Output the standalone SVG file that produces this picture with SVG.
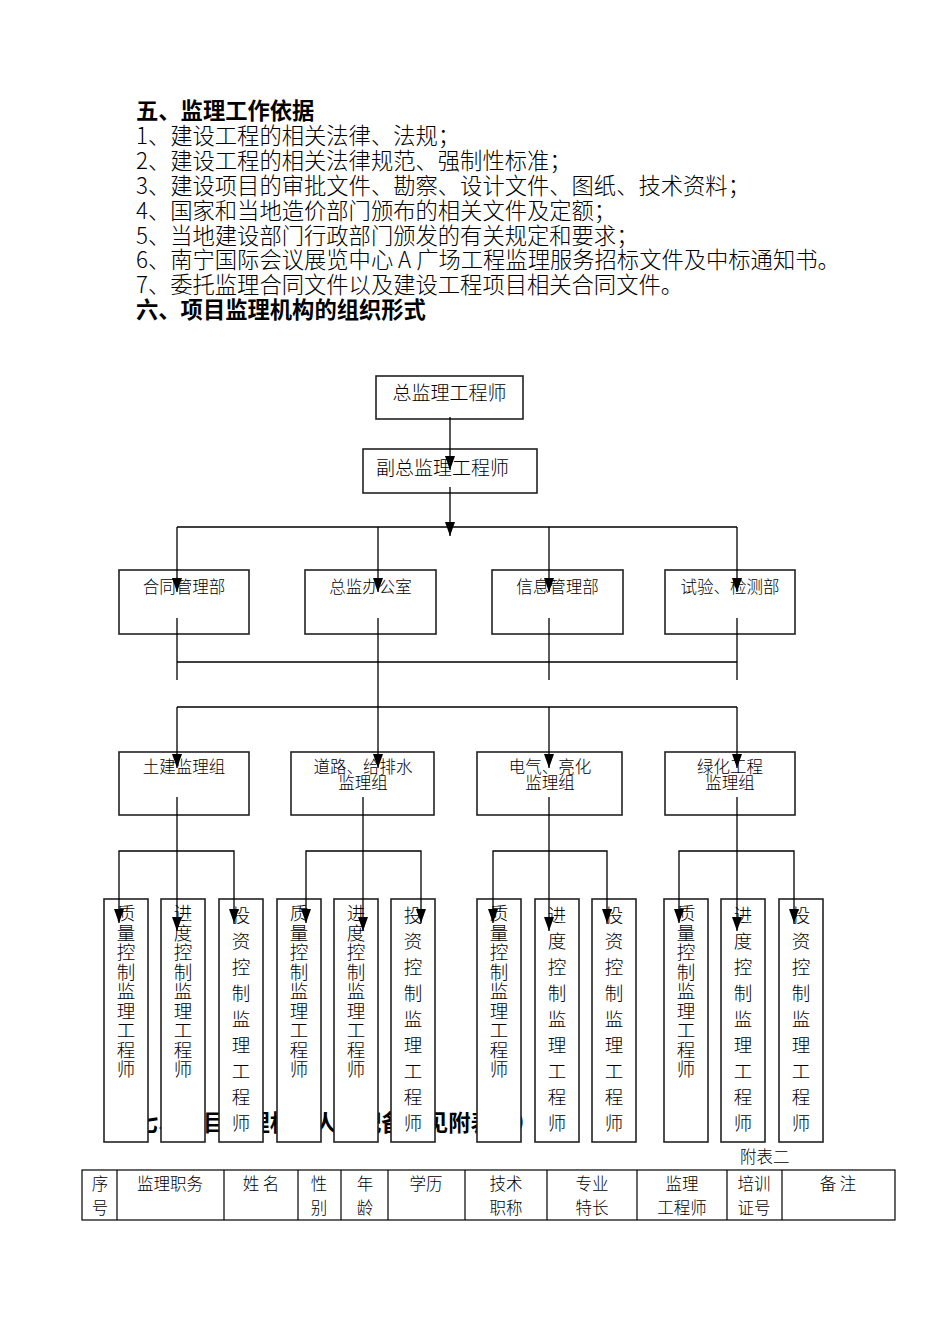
<svg xmlns="http://www.w3.org/2000/svg" width="950" height="1344" viewBox="0 0 950 1344">
<defs>
<marker id="ah" markerWidth="14" markerHeight="10" refX="14" refY="5" orient="auto" markerUnits="userSpaceOnUse" viewBox="0 0 14 10">
<path d="M0,0 L14,5 L0,10 Z" fill="#000"/>
</marker>
<style>
.t{font-family:"Noto Sans CJK SC","Liberation Sans",sans-serif;fill:#000}
.h{font-size:22.3px;font-weight:700}
.b{font-size:22.3px;font-weight:300}
.n{font-size:19px;font-weight:300}
.s{font-size:16.5px;font-weight:300}
.v{font-size:18.5px;font-weight:300}
.box{fill:#fff;stroke:#222;stroke-width:1.6}
.ln{stroke:#000;stroke-width:1.3;fill:none}
.ar{stroke:#000;stroke-width:1.3;fill:none;marker-end:url(#ah)}
.tb{stroke:#000;stroke-width:1.2;fill:none}
</style>
</defs>
<rect width="950" height="1344" fill="#fff"/>

<g id="text-body">
<text class="t h" x="136" y="119">五、监理工作依据</text>
<text class="t b" x="136" y="144">1、建设工程的相关法律、法规；</text>
<text class="t b" x="136" y="169">2、建设工程的相关法律规范、强制性标准；</text>
<text class="t b" x="136" y="194">3、建设项目的审批文件、勘察、设计文件、图纸、技术资料；</text>
<text class="t b" x="136" y="219">4、国家和当地造价部门颁布的相关文件及定额；</text>
<text class="t b" x="136" y="244">5、当地建设部门行政部门颁发的有关规定和要求；</text>
<text class="t b" x="136" y="268">6、南宁国际会议展览中心 A 广场工程监理服务招标文件及中标通知书。</text>
<text class="t b" x="136" y="293">7、委托监理合同文件以及建设工程项目相关合同文件。</text>
<text class="t h" x="136" y="318">六、项目监理机构的组织形式</text>
<text class="t h" x="136" y="1131">七、项目监理机构人员配备详见附表二）</text>
<text class="t s" x="740" y="1163">附表二</text>
</g>

<g id="n-zongjian">
<rect class="box" x="376" y="376" width="147" height="43"/>
<text class="t n" x="449.5" y="400" text-anchor="middle">总监理工程师</text>
</g>
<g id="n-fuzong">
<rect class="box" x="363" y="449" width="174" height="44"/>
<text class="t n" x="376" y="475">副总监理工程师</text>
</g>

<g id="n-hetong"><rect class="box" x="119" y="570" width="130" height="64"/><text class="t s" x="184" y="593" text-anchor="middle">合同管理部</text></g>
<g id="n-bangong"><rect class="box" x="305" y="570" width="131" height="64"/><text class="t s" x="370.5" y="593" text-anchor="middle">总监办公室</text></g>
<g id="n-xinxi"><rect class="box" x="492" y="570" width="131" height="64"/><text class="t s" x="557.5" y="593" text-anchor="middle">信息管理部</text></g>
<g id="n-shiyan"><rect class="box" x="665" y="570" width="130" height="64"/><text class="t s" x="730" y="593" text-anchor="middle">试验、检测部</text></g>

<g id="n-tujian"><rect class="box" x="119" y="752" width="130" height="63"/><text class="t s" x="184" y="773" text-anchor="middle">土建监理组</text></g>
<g id="n-daolu"><rect class="box" x="291" y="752" width="143" height="63"/><text class="t s" x="363" y="773" text-anchor="middle">道路、给排水</text><text class="t s" x="363" y="789" text-anchor="middle">监理组</text></g>
<g id="n-dianqi"><rect class="box" x="477" y="752" width="145" height="63"/><text class="t s" x="550" y="773" text-anchor="middle">电气、亮化</text><text class="t s" x="550" y="789" text-anchor="middle">监理组</text></g>
<g id="n-lvhua"><rect class="box" x="665" y="752" width="130" height="63"/><text class="t s" x="730" y="773" text-anchor="middle">绿化工程</text><text class="t s" x="730" y="789" text-anchor="middle">监理组</text></g>

<g id="n-g1-zl"><rect class="box" x="104" y="899" width="44" height="243"/><text class="t v" text-anchor="middle"><tspan x="126" y="920">质</tspan><tspan x="126" dy="19.5">量</tspan><tspan x="126" dy="19.5">控</tspan><tspan x="126" dy="19.5">制</tspan><tspan x="126" dy="19.5">监</tspan><tspan x="126" dy="19.5">理</tspan><tspan x="126" dy="19.5">工</tspan><tspan x="126" dy="19.5">程</tspan><tspan x="126" dy="19.5">师</tspan></text></g>
<g id="n-g1-jd"><rect class="box" x="161" y="899" width="44" height="243"/><text class="t v" text-anchor="middle"><tspan x="183" y="920">进</tspan><tspan x="183" dy="19.5">度</tspan><tspan x="183" dy="19.5">控</tspan><tspan x="183" dy="19.5">制</tspan><tspan x="183" dy="19.5">监</tspan><tspan x="183" dy="19.5">理</tspan><tspan x="183" dy="19.5">工</tspan><tspan x="183" dy="19.5">程</tspan><tspan x="183" dy="19.5">师</tspan></text></g>
<g id="n-g1-tz"><rect class="box" x="219" y="899" width="44" height="243"/><text class="t v" text-anchor="middle"><tspan x="241" y="922">投</tspan><tspan x="241" dy="26">资</tspan><tspan x="241" dy="26">控</tspan><tspan x="241" dy="26">制</tspan><tspan x="241" dy="26">监</tspan><tspan x="241" dy="26">理</tspan><tspan x="241" dy="26">工</tspan><tspan x="241" dy="26">程</tspan><tspan x="241" dy="26">师</tspan></text></g>

<g id="n-g2-zl"><rect class="box" x="277" y="899" width="44" height="243"/><text class="t v" text-anchor="middle"><tspan x="299" y="920">质</tspan><tspan x="299" dy="19.5">量</tspan><tspan x="299" dy="19.5">控</tspan><tspan x="299" dy="19.5">制</tspan><tspan x="299" dy="19.5">监</tspan><tspan x="299" dy="19.5">理</tspan><tspan x="299" dy="19.5">工</tspan><tspan x="299" dy="19.5">程</tspan><tspan x="299" dy="19.5">师</tspan></text></g>
<g id="n-g2-jd"><rect class="box" x="334" y="899" width="44" height="243"/><text class="t v" text-anchor="middle"><tspan x="356" y="920">进</tspan><tspan x="356" dy="19.5">度</tspan><tspan x="356" dy="19.5">控</tspan><tspan x="356" dy="19.5">制</tspan><tspan x="356" dy="19.5">监</tspan><tspan x="356" dy="19.5">理</tspan><tspan x="356" dy="19.5">工</tspan><tspan x="356" dy="19.5">程</tspan><tspan x="356" dy="19.5">师</tspan></text></g>
<g id="n-g2-tz"><rect class="box" x="391" y="899" width="44" height="243"/><text class="t v" text-anchor="middle"><tspan x="413" y="922">投</tspan><tspan x="413" dy="26">资</tspan><tspan x="413" dy="26">控</tspan><tspan x="413" dy="26">制</tspan><tspan x="413" dy="26">监</tspan><tspan x="413" dy="26">理</tspan><tspan x="413" dy="26">工</tspan><tspan x="413" dy="26">程</tspan><tspan x="413" dy="26">师</tspan></text></g>

<g id="n-g3-zl"><rect class="box" x="477" y="899" width="44" height="243"/><text class="t v" text-anchor="middle"><tspan x="499" y="920">质</tspan><tspan x="499" dy="19.5">量</tspan><tspan x="499" dy="19.5">控</tspan><tspan x="499" dy="19.5">制</tspan><tspan x="499" dy="19.5">监</tspan><tspan x="499" dy="19.5">理</tspan><tspan x="499" dy="19.5">工</tspan><tspan x="499" dy="19.5">程</tspan><tspan x="499" dy="19.5">师</tspan></text></g>
<g id="n-g3-jd"><rect class="box" x="535" y="899" width="44" height="243"/><text class="t v" text-anchor="middle"><tspan x="557" y="922">进</tspan><tspan x="557" dy="26">度</tspan><tspan x="557" dy="26">控</tspan><tspan x="557" dy="26">制</tspan><tspan x="557" dy="26">监</tspan><tspan x="557" dy="26">理</tspan><tspan x="557" dy="26">工</tspan><tspan x="557" dy="26">程</tspan><tspan x="557" dy="26">师</tspan></text></g>
<g id="n-g3-tz"><rect class="box" x="592" y="899" width="44" height="243"/><text class="t v" text-anchor="middle"><tspan x="614" y="922">投</tspan><tspan x="614" dy="26">资</tspan><tspan x="614" dy="26">控</tspan><tspan x="614" dy="26">制</tspan><tspan x="614" dy="26">监</tspan><tspan x="614" dy="26">理</tspan><tspan x="614" dy="26">工</tspan><tspan x="614" dy="26">程</tspan><tspan x="614" dy="26">师</tspan></text></g>

<g id="n-g4-zl"><rect class="box" x="664" y="899" width="44" height="243"/><text class="t v" text-anchor="middle"><tspan x="686" y="920">质</tspan><tspan x="686" dy="19.5">量</tspan><tspan x="686" dy="19.5">控</tspan><tspan x="686" dy="19.5">制</tspan><tspan x="686" dy="19.5">监</tspan><tspan x="686" dy="19.5">理</tspan><tspan x="686" dy="19.5">工</tspan><tspan x="686" dy="19.5">程</tspan><tspan x="686" dy="19.5">师</tspan></text></g>
<g id="n-g4-jd"><rect class="box" x="721" y="899" width="44" height="243"/><text class="t v" text-anchor="middle"><tspan x="743" y="922">进</tspan><tspan x="743" dy="26">度</tspan><tspan x="743" dy="26">控</tspan><tspan x="743" dy="26">制</tspan><tspan x="743" dy="26">监</tspan><tspan x="743" dy="26">理</tspan><tspan x="743" dy="26">工</tspan><tspan x="743" dy="26">程</tspan><tspan x="743" dy="26">师</tspan></text></g>
<g id="n-g4-tz"><rect class="box" x="779" y="899" width="44" height="243"/><text class="t v" text-anchor="middle"><tspan x="801" y="922">投</tspan><tspan x="801" dy="26">资</tspan><tspan x="801" dy="26">控</tspan><tspan x="801" dy="26">制</tspan><tspan x="801" dy="26">监</tspan><tspan x="801" dy="26">理</tspan><tspan x="801" dy="26">工</tspan><tspan x="801" dy="26">程</tspan><tspan x="801" dy="26">师</tspan></text></g>

<g id="connectors">
<line class="ar" x1="450" y1="417" x2="450" y2="470"/>
<line class="ar" x1="450" y1="487" x2="450" y2="536"/>
<line class="ln" x1="177" y1="527" x2="737" y2="527"/>
<line class="ar" x1="177" y1="527" x2="177" y2="592"/>
<line class="ar" x1="378" y1="527" x2="378" y2="592"/>
<line class="ar" x1="549" y1="527" x2="549" y2="592"/>
<line class="ar" x1="737" y1="527" x2="737" y2="592"/>
<line class="ln" x1="177" y1="618" x2="177" y2="680"/>
<line class="ln" x1="378" y1="618" x2="378" y2="707"/>
<line class="ln" x1="549" y1="618" x2="549" y2="680"/>
<line class="ln" x1="737" y1="618" x2="737" y2="680"/>
<line class="ln" x1="177" y1="662" x2="737" y2="662"/>
<line class="ln" x1="177" y1="707" x2="737" y2="707"/>
<line class="ar" x1="177" y1="707" x2="177" y2="768"/>
<line class="ar" x1="378" y1="707" x2="378" y2="768"/>
<line class="ar" x1="549" y1="707" x2="549" y2="768"/>
<line class="ar" x1="737" y1="707" x2="737" y2="768"/>
<line class="ar" x1="177" y1="797" x2="177" y2="931"/>
<line class="ar" x1="363" y1="797" x2="363" y2="931"/>
<line class="ar" x1="549" y1="797" x2="549" y2="931"/>
<line class="ar" x1="737" y1="797" x2="737" y2="931"/>
<path class="ar" d="M177,851 H119 V923"/>
<path class="ar" d="M177,851 H234 V923"/>
<path class="ar" d="M363,851 H306 V923"/>
<path class="ar" d="M363,851 H421 V923"/>
<path class="ar" d="M549,851 H493 V923"/>
<path class="ar" d="M549,851 H607 V923"/>
<path class="ar" d="M737,851 H679 V923"/>
<path class="ar" d="M737,851 H794 V923"/>
</g>

<g id="table">
<rect class="tb" x="82" y="1170" width="813" height="50"/>
<line class="tb" x1="117" y1="1170" x2="117" y2="1220"/>
<line class="tb" x1="224" y1="1170" x2="224" y2="1220"/>
<line class="tb" x1="298" y1="1170" x2="298" y2="1220"/>
<line class="tb" x1="341" y1="1170" x2="341" y2="1220"/>
<line class="tb" x1="388" y1="1170" x2="388" y2="1220"/>
<line class="tb" x1="465" y1="1170" x2="465" y2="1220"/>
<line class="tb" x1="547" y1="1170" x2="547" y2="1220"/>
<line class="tb" x1="637" y1="1170" x2="637" y2="1220"/>
<line class="tb" x1="727" y1="1170" x2="727" y2="1220"/>
<line class="tb" x1="782" y1="1170" x2="782" y2="1220"/>
<g class="t s" text-anchor="middle">
<text x="100" y="1190">序</text><text x="100" y="1214">号</text>
<text x="170" y="1190">监理职务</text>
<text x="261" y="1190">姓 名</text>
<text x="319" y="1190">性</text><text x="319" y="1214">别</text>
<text x="365" y="1190">年</text><text x="365" y="1214">龄</text>
<text x="426" y="1190">学历</text>
<text x="506" y="1190">技术</text><text x="506" y="1214">职称</text>
<text x="592" y="1190">专业</text><text x="592" y="1214">特长</text>
<text x="682" y="1190">监理</text><text x="682" y="1214">工程师</text>
<text x="754" y="1190">培训</text><text x="754" y="1214">证号</text>
<text x="838" y="1190">备 注</text>
</g>
</g>
</svg>
